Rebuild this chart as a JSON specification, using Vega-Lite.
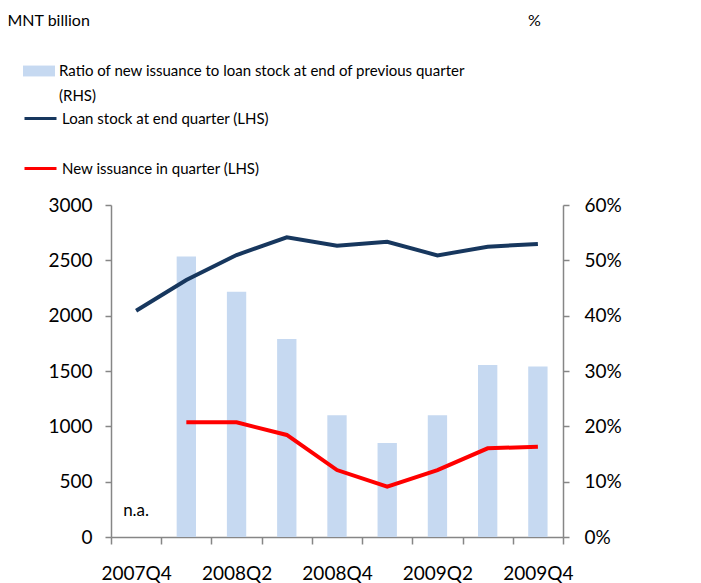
{
  "$schema": "https://vega.github.io/schema/vega-lite/v6.json",
  "width": 452,
  "height": 332,
  "autosize": {"type": "none"},
  "padding": {"left": 111, "top": 205, "right": 138, "bottom": 46},
  "background": "white",
  "config": {
    "font": "Lato",
    "view": {"stroke": null},
    "axis": {
      "grid": false,
      "domainColor": "#868686",
      "domainWidth": 1.5,
      "tickColor": "#868686",
      "tickWidth": 1.5,
      "labelColor": "black",
      "labelFontSize": 19,
      "labelFont": "Lato",
      "titleFont": "Lato",
      "titleFontWeight": "normal",
      "titleColor": "black",
      "titleFontSize": 16
    },
    "legend": {"labelFont": "Lato", "labelColor": "black"}
  },
  "data": {
    "values": [
      {"q": "2007Q4", "ratio": null, "loan": 2045, "issuance": null, "note": "n.a."},
      {"q": "2008Q1", "ratio": 50.7, "loan": 2322, "issuance": 1036, "note": null},
      {"q": "2008Q2", "ratio": 44.3, "loan": 2548, "issuance": 1036, "note": null},
      {"q": "2008Q3", "ratio": 35.8, "loan": 2708, "issuance": 922, "note": null},
      {"q": "2008Q4", "ratio": 22.0, "loan": 2632, "issuance": 605, "note": null},
      {"q": "2009Q1", "ratio": 17.0, "loan": 2668, "issuance": 455, "note": null},
      {"q": "2009Q2", "ratio": 22.0, "loan": 2545, "issuance": 605, "note": null},
      {"q": "2009Q3", "ratio": 31.1, "loan": 2623, "issuance": 801, "note": null},
      {"q": "2009Q4", "ratio": 30.8, "loan": 2648, "issuance": 816, "note": null}
    ]
  },
  "layer": [
    {
      "mark": {"type": "bar", "width": {"band": 0.385}},
      "encoding": {
        "x": {
          "field": "q",
          "type": "ordinal",
          "sort": null,
          "scale": {
            "domain": ["2007Q4", "2008Q1", "2008Q2", "2008Q3", "2008Q4", "2009Q1", "2009Q2", "2009Q3", "2009Q4"],
            "paddingInner": 0,
            "paddingOuter": 0
          },
          "axis": {
            "title": null,
            "labelAngle": 0,
            "tickBand": "extent",
            "tickSize": 7,
            "labelPadding": 20,
            "labelExpr": "indexof(['2007Q4','2008Q2','2008Q4','2009Q2','2009Q4'], datum.value) >= 0 ? datum.label : ''"
          }
        },
        "y": {
          "field": "ratio",
          "type": "quantitative",
          "scale": {"domain": [0, 60], "nice": false},
          "axis": {
            "orient": "right",
            "values": [0, 10, 20, 30, 40, 50, 60],
            "labelExpr": "datum.value + '%'",
            "tickSize": 6,
            "labelPadding": 15,
            "title": "%",
            "titleAngle": 0,
            "titleAlign": "center",
            "titleBaseline": "middle",
            "titleX": -29,
            "titleY": -185
          }
        },
        "fill": {
          "datum": "Ratio of new issuance to loan stock at end of previous quarter (RHS)",
          "scale": {"range": ["#C6D9F1"]},
          "legend": {
            "orient": "none",
            "legendX": -88,
            "legendY": -150,
            "title": null,
            "padding": 0,
            "symbolType": "M-1,-0.34H1V0.34H-1Z",
            "symbolSize": 1024,
            "symbolStrokeWidth": 0,
            "symbolOpacity": 1,
            "labelFontSize": 15,
            "labelOffset": 4,
            "labelLimit": 800,
            "labelExpr": "['Ratio of new issuance to loan stock at end of previous quarter', '(RHS)']",
            "encode": {"labels": {"update": {"lineHeight": {"value": 25}}}}
          }
        }
      }
    },
    {
      "encoding": {"x": {"field": "q", "type": "ordinal", "sort": null}},
      "layer": [
        {
          "mark": {"type": "line", "strokeWidth": 4},
          "encoding": {
            "y": {
              "field": "loan",
              "type": "quantitative",
              "scale": {"domain": [0, 3000], "nice": false},
              "axis": {
                "orient": "left",
                "values": [0, 500, 1000, 1500, 2000, 2500, 3000],
                "format": "d",
                "tickSize": 6,
                "labelPadding": 13,
                "title": "MNT billion",
                "titleAngle": 0,
                "titleAlign": "left",
                "titleBaseline": "middle",
                "titleX": -104,
                "titleY": -185
              }
            },
            "stroke": {
              "datum": "Loan stock at end quarter (LHS)",
              "scale": {
                "domain": ["Loan stock at end quarter (LHS)", "New issuance in quarter (LHS)"],
                "range": ["#17375E", "#FF0000"]
              },
              "legend": {
                "orient": "none",
                "legendX": -88,
                "legendY": -104,
                "title": null,
                "padding": 0,
                "symbolType": "stroke",
                "symbolSize": 1024,
                "symbolStrokeWidth": 3,
                "rowPadding": 24,
                "labelFontSize": 15,
                "labelOffset": 4,
                "labelLimit": 800
              }
            }
          }
        },
        {
          "mark": {"type": "line", "strokeWidth": 4},
          "encoding": {
            "y": {"field": "issuance", "type": "quantitative"},
            "stroke": {"datum": "New issuance in quarter (LHS)"}
          }
        },
        {
          "transform": [{"filter": "isValid(datum.note)"}],
          "mark": {"type": "text", "fontSize": 17, "color": "black", "font": "Lato"},
          "encoding": {
            "y": {"datum": 235, "type": "quantitative"},
            "text": {"field": "note"}
          }
        }
      ]
    }
  ],
  "resolve": {"scale": {"y": "independent"}}
}
